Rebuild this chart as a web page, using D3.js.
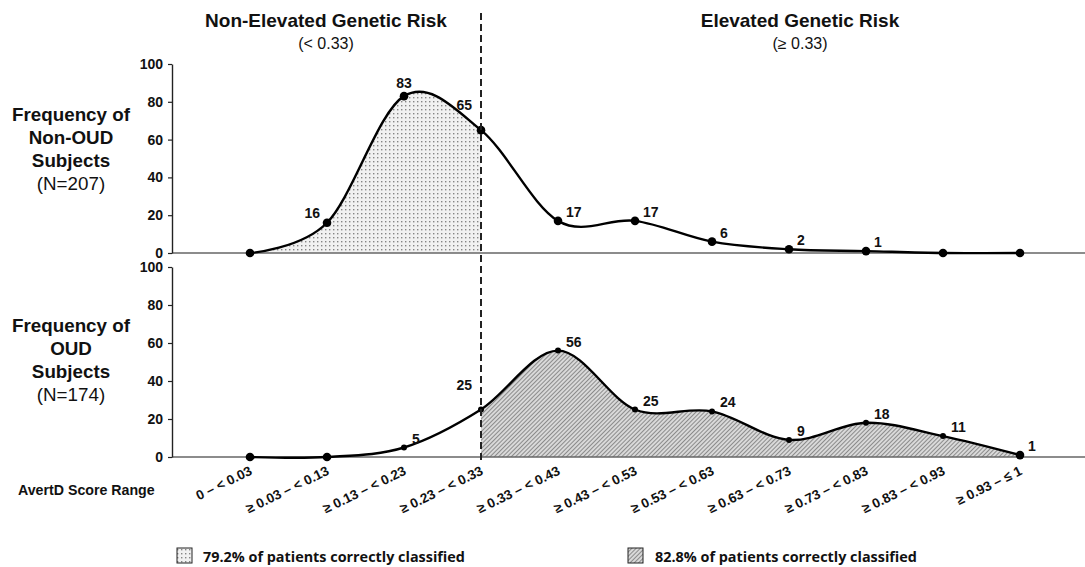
<!DOCTYPE html>
<html>
<head>
<meta charset="utf-8">
<script src="https://cdn.jsdelivr.net/npm/d3@7"></script>
<style>
  body { margin: 0; background: #fff; }
  svg { font-family: Arial, "Liberation Sans", sans-serif; }
</style>
</head>
<body>
<svg id="chart" width="1085" height="567"></svg>
<script>
// score ranges along the bottom
const categories = ["0 – < 0.03", "≥ 0.03 – < 0.13", "≥ 0.13 – < 0.23", "≥ 0.23 – < 0.33",
  "≥ 0.33 – < 0.43", "≥ 0.43 – < 0.53", "≥ 0.53 – < 0.63", "≥ 0.63 – < 0.73",
  "≥ 0.73 – < 0.83", "≥ 0.83 – < 0.93", "≥ 0.93 – ≤ 1"];
const nonOud = [0, 16, 83, 65, 17, 17, 6, 2, 1, 0, 0];
const oud = [0, 0, 5, 25, 56, 25, 24, 9, 18, 11, 1];
const yTicks = [0, 20, 40, 60, 80, 100];
const legendTexts = ["79.2% of patients correctly classified", "82.8% of patients correctly classified"];

// where each value label sits relative to its dot
const topLabelPos = [null, "left", "above", "upleft", "right", "right", "right", "right", "right", null, null];
const botLabelPos = [null, null, "right", "upleft", "right", "right", "right", "right", "right", "right", "right"];

const svg = d3.select("#chart");
const width = 1085;
const axisX = 172;

const x = d3.scalePoint().domain(categories).range([250, 1020]);
const yTop = d3.scaleLinear().domain([0, 100]).range([253, 64]);
const yBot = d3.scaleLinear().domain([0, 100]).range([457, 267]);

const defs = svg.append("defs");

// dotted fill for the non-elevated region
const dots = defs.append("pattern")
  .attr("id", "dots").attr("patternUnits", "userSpaceOnUse")
  .attr("width", 4).attr("height", 4);
dots.append("rect").attr("width", 4).attr("height", 4).attr("fill", "#f1f1f1");
dots.append("rect").attr("x", 1).attr("y", 1).attr("width", 1.4).attr("height", 1.4).attr("fill", "#858585");

// hatched fill for the elevated region
const hatch = defs.append("pattern")
  .attr("id", "hatch").attr("patternUnits", "userSpaceOnUse")
  .attr("width", 3).attr("height", 3)
  .attr("patternTransform", "rotate(45)");
hatch.append("rect").attr("width", 3).attr("height", 3).attr("fill", "#d9d9d9");
hatch.append("line").attr("x1", 0).attr("y1", 0).attr("x2", 0).attr("y2", 3)
  .attr("stroke", "#6a6a6a").attr("stroke-width", 1.4);

const xs = categories.map(c => x(c));

defs.append("clipPath").attr("id", "clipLeft")
  .append("rect").attr("x", xs[0]).attr("y", 0).attr("width", xs[3] - xs[0]).attr("height", 567);
defs.append("clipPath").attr("id", "clipRight")
  .append("rect").attr("x", xs[3]).attr("y", 0).attr("width", xs[10] - xs[3]).attr("height", 567);

const labelDx = { left: -7, right: 8, above: 0, upleft: -9 };
const labelDy = { left: -5, right: -4, above: -8, upleft: -20 };
const labelAnchor = { left: "end", right: "start", above: "middle", upleft: "end" };

function panel(values, y, fillId, clipId, labelPos, small) {
  const g = svg.append("g");
  const pts = values.map((v, i) => [xs[i], y(v)]);
  const curve = d3.curveCardinal.tension(0);

  const area = d3.area().x(d => d[0]).y0(y(0)).y1(d => d[1]).curve(curve);
  g.append("path").datum(pts)
    .attr("d", area)
    .attr("fill", `url(#${fillId})`)
    .attr("clip-path", `url(#${clipId})`);

  // baseline
  g.append("line")
    .attr("x1", axisX).attr("x2", width)
    .attr("y1", y(0)).attr("y2", y(0))
    .attr("stroke", "#666").attr("stroke-width", 1.6);

  // y axis
  const ax = g.append("g")
    .attr("transform", `translate(${axisX},0)`)
    .call(d3.axisLeft(y).tickValues(yTicks).tickSize(4).tickSizeOuter(0).tickPadding(5));
  ax.select(".domain").attr("stroke", "#222").attr("stroke-width", 1.4);
  ax.selectAll(".tick line").attr("stroke", "#222").attr("stroke-width", 1.2);
  ax.selectAll(".tick text")
    .attr("font-family", "Arial, 'Liberation Sans', sans-serif")
    .attr("font-size", 14).attr("font-weight", "bold").attr("fill", "#111");

  const line = d3.line().x(d => d[0]).y(d => d[1]).curve(curve);
  g.append("path").datum(pts)
    .attr("d", line)
    .attr("fill", "none").attr("stroke", "#000").attr("stroke-width", 2.4);

  g.selectAll("circle.pt").data(pts).join("circle")
    .attr("class", "pt")
    .attr("cx", d => d[0]).attr("cy", d => d[1])
    .attr("r", (d, i) => small(i) ? 3 : 4.3)
    .attr("fill", "#000");

  g.selectAll("text.val").data(values.map((v, i) => ({ v, i })).filter(d => labelPos[d.i]))
    .join("text")
    .attr("class", "val")
    .attr("x", d => xs[d.i] + labelDx[labelPos[d.i]])
    .attr("y", d => y(d.v) + labelDy[labelPos[d.i]])
    .attr("text-anchor", d => labelAnchor[labelPos[d.i]])
    .attr("font-size", 14).attr("font-weight", "bold").attr("fill", "#111")
    .text(d => d.v);
}

panel(nonOud, yTop, "dots", "clipLeft", topLabelPos, () => false);
panel(oud, yBot, "hatch", "clipRight", botLabelPos, i => i >= 2 && i <= 9);

// threshold divider
svg.append("line")
  .attr("x1", xs[3]).attr("x2", xs[3])
  .attr("y1", 13).attr("y2", 463)
  .attr("stroke", "#222").attr("stroke-width", 2)
  .attr("stroke-dasharray", "7,4");

// group headings
const heads = [
  { t: "Non-Elevated Genetic Risk", s: "(< 0.33)", cx: 326 },
  { t: "Elevated Genetic Risk", s: "(≥ 0.33)", cx: 800 }
];
heads.forEach(h => {
  svg.append("text").attr("x", h.cx).attr("y", 27).attr("text-anchor", "middle")
    .attr("font-size", 19).attr("font-weight", "bold").attr("fill", "#111").text(h.t);
  svg.append("text").attr("x", h.cx).attr("y", 49).attr("text-anchor", "middle")
    .attr("font-size", 16).attr("fill", "#111").text(h.s);
});

// y titles
function yTitle(lines, top) {
  lines.forEach((l, i) => {
    svg.append("text").attr("x", 71).attr("y", top + i * 23)
      .attr("text-anchor", "middle")
      .attr("font-size", 18.8).attr("font-weight", i < 3 ? "bold" : "normal")
      .attr("fill", "#111").text(l);
  });
}
yTitle(["Frequency of", "Non-OUD", "Subjects", "(N=207)"], 121);
yTitle(["Frequency of", "OUD", "Subjects", "(N=174)"], 332);

// category labels
svg.append("g").selectAll("text").data(categories).join("text")
  .attr("transform", d => `translate(${x(d) + 3},${474}) rotate(-26)`)
  .attr("text-anchor", "end")
  .attr("font-size", 13.5).attr("font-weight", "bold").attr("fill", "#111")
  .text(d => d);

svg.append("text").attr("x", 18).attr("y", 495)
  .attr("font-size", 14.2).attr("font-weight", "bold").attr("fill", "#111")
  .text("AvertD Score Range");

// legend
const legend = [
  { fill: "dots", bx: 177, tx: 203 },
  { fill: "hatch", bx: 628, tx: 655 }
];
legend.forEach((l, i) => {
  svg.append("rect").attr("x", l.bx).attr("y", 548).attr("width", 15).attr("height", 15)
    .attr("fill", `url(#${l.fill})`).attr("stroke", "#222").attr("stroke-width", 1);
  svg.append("text").attr("x", l.tx).attr("y", 562)
    .attr("font-family", "'Open Sans', sans-serif")
    .attr("font-size", 14.4).attr("font-weight", "bold").attr("fill", "#111")
    .text(legendTexts[i]);
});
</script>
</body>
</html>
